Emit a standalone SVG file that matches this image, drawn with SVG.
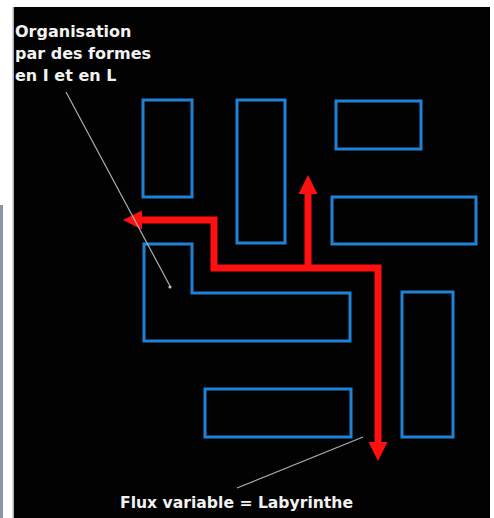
<svg xmlns="http://www.w3.org/2000/svg" width="494" height="518" viewBox="0 0 494 518">
  <style>
    .block { fill: none; stroke: #1f82d6; stroke-width: 3; }
    .flow { fill: none; stroke: #ff1010; stroke-width: 7; stroke-linejoin: miter; }
    .pointer { fill: none; stroke: #a8b0b8; stroke-width: 1.2; }
    .label { font-family: "DejaVu Sans", "Liberation Sans", sans-serif; font-weight: bold; font-size: 16px; fill: #f2f2f2; }
  </style>
  <defs>
    <marker id="head" viewBox="0 0 20 20" refX="1" refY="10" markerUnits="userSpaceOnUse" markerWidth="19" markerHeight="21" orient="auto-start-reverse">
      <path d="M0,0 L20,10 L0,20 Z" fill="#ff1010"/>
    </marker>
  </defs>

  <!-- page margin and slide area -->
  <rect x="0" y="0" width="494" height="518" fill="#ffffff"/>
  <rect x="0" y="205" width="3" height="313" fill="#8c95a8"/>
  <rect x="12.5" y="7" width="1.5" height="511" fill="#b0b0b0"/>
  <rect x="14" y="7" width="476" height="511" fill="#020202"/>

  <!-- building blocks -->
  <g id="block-i1"><rect class="block" x="143" y="100" width="49" height="97"/></g>
  <g id="block-i2"><rect class="block" x="237" y="100" width="48" height="143"/></g>
  <g id="block-top-right"><rect class="block" x="336" y="101" width="85" height="48"/></g>
  <g id="block-wide-right"><rect class="block" x="332" y="197" width="144" height="47"/></g>
  <g id="block-l"><path class="block" d="M144,244 H192 V293 H350 V341 H144 Z"/></g>
  <g id="block-i3"><rect class="block" x="402" y="292" width="51" height="145"/></g>
  <g id="block-bottom"><rect class="block" x="205" y="389" width="146" height="48"/></g>

  <!-- labels -->
  <g id="label-forms">
    <text class="label" x="15" y="37">Organisation</text>
    <text class="label" x="15" y="59">par des formes</text>
    <text class="label" x="15" y="81">en I et en L</text>
  </g>
  <g id="label-flux">
    <text class="label" x="120" y="508" textLength="233" lengthAdjust="spacingAndGlyphs">Flux variable = Labyrinthe</text>
  </g>

  <!-- connectors: flow paths and label pointers -->
  <g id="connectors">
    <path class="flow" d="M141,220 H214 V268 H378 V443" marker-start="url(#head)" marker-end="url(#head)"/>
    <path class="flow" d="M308,268 V193" marker-end="url(#head)"/>
    <line class="pointer" x1="66" y1="92" x2="170" y2="286"/>
    <circle cx="170" cy="287" r="1.6" fill="#b8c0c8"/>
    <line class="pointer" x1="237" y1="488" x2="363" y2="437"/>
  </g>
</svg>
